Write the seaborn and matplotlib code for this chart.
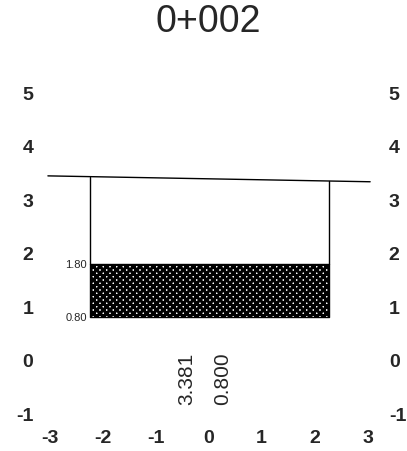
import matplotlib
matplotlib.use('Agg')
import matplotlib.pyplot as plt
import seaborn as sns
import pandas as pd

# ---- data ----
station = '0+002'
ground_x = [-3.03, 3.05]
ground_y = [3.44, 3.33]
trench_x = [-2.24, 2.27]
layer_bottom = 0.80
layer_top = 1.80
ground_level = 3.381
depth = 0.800
x_ticks = [-3, -2, -1, 0, 1, 2, 3]
y_ticks = [-1, 0, 1, 2, 3, 4, 5]

sns.set_style('white')
plt.rcParams['font.family'] = ['Liberation Sans', 'DejaVu Sans']
plt.rcParams['axes.unicode_minus'] = False
plt.rcParams['hatch.linewidth'] = 2.2

fig = plt.figure(figsize=(4.07, 4.52), dpi=100)
ax = fig.add_axes([36 / 407, (452 - 430.5) / 452, 350 / 407, 358.5 / 452])

# ground line
ground = pd.DataFrame({'x': ground_x, 'y': ground_y})
sns.lineplot(data=ground, x='x', y='y', color='black', linewidth=1.0, ax=ax)

# trench walls from layer top up to ground line
for xw in trench_x:
    gy = ground_y[0] + (ground_y[1] - ground_y[0]) * (xw - ground_x[0]) / (ground_x[1] - ground_x[0])
    wall = pd.DataFrame({'x': [xw, xw], 'y': [layer_top, gy]})
    sns.lineplot(data=wall, x='x', y='y', color='black', linewidth=1.0, ax=ax,
                 orient='y')

# hatched layer
ax.fill_between(trench_x, layer_bottom, layer_top, facecolor='white',
                edgecolor='black', hatch='xxxxx', linewidth=1.0)

# small elevation labels
ax.text(trench_x[0] - 0.05, layer_top, f'{layer_top:.2f}', fontsize=8,
        ha='right', va='center')
ax.text(trench_x[0] - 0.05, layer_bottom, f'{layer_bottom:.2f}', fontsize=8,
        ha='right', va='center')

# vertical labels
ax.text(-0.41, -0.34, f'{ground_level:.3f}', rotation=90, fontsize=15,
        ha='center', va='center')
ax.text(0.27, -0.34, f'{depth:.3f}', rotation=90, fontsize=15,
        ha='center', va='center')

ax.set_xlim((36 - 208.5) / 53, (386 - 208.5) / 53)
ax.set_ylim(-1.3, 5.4)
ax.set_xticks(x_ticks)
ax.set_yticks(y_ticks)
ax.set_xticklabels([str(v) for v in x_ticks], fontsize=14, fontweight='bold')
ax.set_yticklabels([str(v) for v in y_ticks], fontsize=14, fontweight='bold')
ax.tick_params(axis='both', length=0)
ax.tick_params(axis='x', pad=0)
ax.tick_params(axis='y', pad=2, labelright=True)
ax.set_xlabel('')
ax.set_ylabel('')
for s in ax.spines.values():
    s.set_visible(False)
ax.grid(False)

fig.text(208 / 407, 1 - 22 / 452, station, fontsize=27, ha='center', va='center')

fig.savefig('out.png', dpi=100)
